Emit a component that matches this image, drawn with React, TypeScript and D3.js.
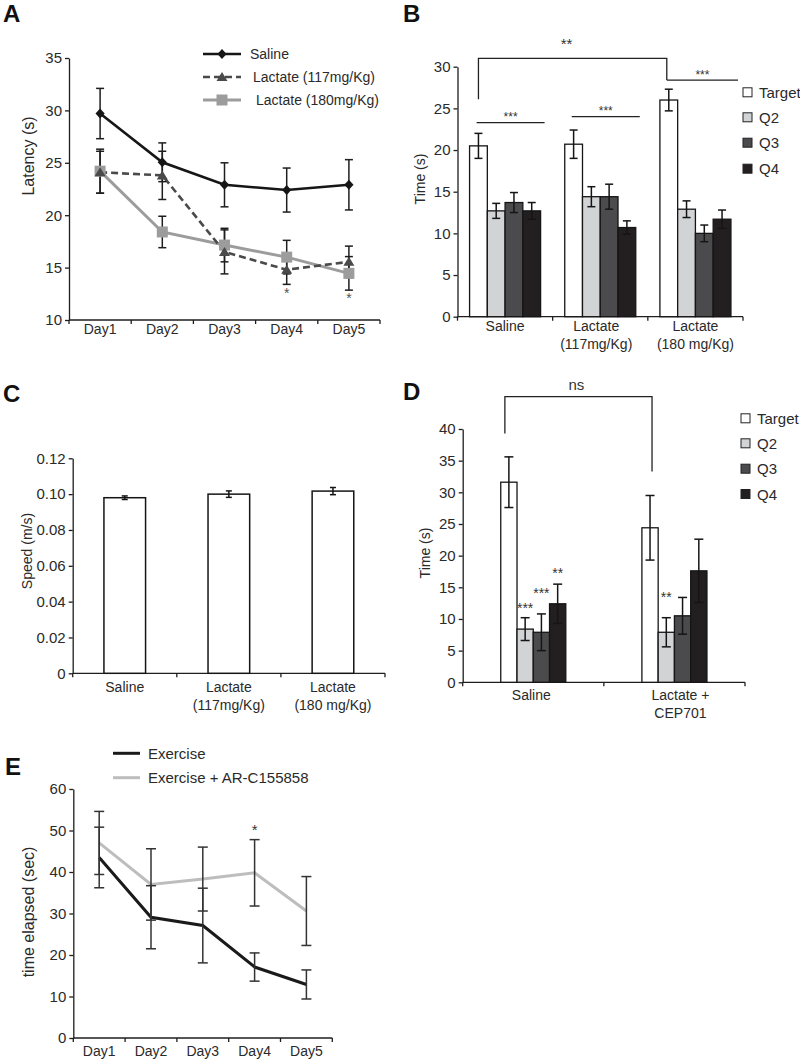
import React, { useEffect, useRef } from "react";
import * as d3 from "d3";

const FONT = "'Liberation Sans', Arial, Helvetica, sans-serif";
const INK = "#1e1e1e";
const TXT = "#2a2a2a";

// ---------- Panel A ----------
const daysA = ["Day1", "Day2", "Day3", "Day4", "Day5"];
const salineA = [29.7, 25.05, 22.9, 22.4, 22.9];
const salineAErr = [2.4, 1.85, 2.1, 2.1, 2.4];
const lac117A = [24.1, 23.8, 16.5, 14.8, 15.55];
const lac117AErr = [2.0, 2.3, 2.1, 1.4, 1.5];
const lac180A = [24.2, 18.4, 17.15, 16.0, 14.45];
const lac180AErr = [2.1, 1.5, 1.6, 1.6, 1.6];
const yTicksA = [10, 15, 20, 25, 30, 35];
const legendA = ["Saline", "Lactate (117mg/Kg)", " Lactate (180mg/Kg)"];
const starsA = ["", "", "", "*", "*"];
const starLevelA = [0, 0, 0, 12.1, 11.6];

// ---------- Panel B ----------
const groupsB = ["Saline", "Lactate (117mg/Kg)", "Lactate (180 mg/Kg)"];
const groupLinesB = [["Saline"], ["Lactate", "(117mg/Kg)"], ["Lactate", "(180 mg/Kg)"]];
const quadrants = ["Target", "Q2", "Q3", "Q4"];
const targetB = [20.5, 20.7, 26.0];
const q2B = [12.7, 14.4, 12.9];
const q3B = [13.7, 14.4, 10.0];
const q4B = [12.7, 10.7, 11.7];
const targetBErr = [1.5, 1.7, 1.3];
const q2BErr = [0.9, 1.2, 1.0];
const q3BErr = [1.2, 1.5, 1.0];
const q4BErr = [1.0, 0.8, 1.1];
const yTicksB = [0, 5, 10, 15, 20, 25, 30];

// ---------- Panel C ----------
const groupLinesC = groupLinesB;
const speedC = [0.098, 0.1, 0.1017];
const speedCErr = [0.001, 0.0018, 0.002];
const yTicksC = [0, 0.02, 0.04, 0.06, 0.08, 0.1, 0.12];

// ---------- Panel D ----------
const groupsD = ["Saline", "Lactate + CEP701"];
const groupLinesD = [["Saline"], ["Lactate +", "CEP701"]];
const targetD = [31.6, 24.4];
const q2D = [8.4, 7.9];
const q3D = [7.9, 10.5];
const q4D = [12.4, 17.6];
const targetDErr = [4.0, 5.1];
const q2DErr = [1.8, 2.3];
const q3DErr = [2.9, 2.9];
const q4DErr = [3.1, 5.0];
const yTicksD = [0, 5, 10, 15, 20, 25, 30, 35, 40];
const starsD = [["", "***", "***", "**"], ["", "**", "", ""]];
const starLevelD = [[0, 10.9, 13.3, 16.5], [0, 12.7, 0, 0]];

// ---------- Panel E ----------
const daysE = ["Day1", "Day2", "Day3", "Day4", "Day5"];
const exerciseE = [43.5, 29.1, 27.1, 17.1, 12.9];
const exerciseEErr = [7.3, 7.6, 9.0, 3.4, 3.5];
const arcE = [47.0, 37.0, 38.3, 39.8, 30.6];
const arcEErr = [7.6, 8.6, 7.7, 8.0, 8.3];
const yTicksE = [0, 10, 20, 30, 40, 50, 60];
const legendE = ["Exercise", "Exercise + AR-C155858"];
const starsE = ["", "", "", "*", ""];
const starLevelE = [0, 0, 0, 49.0, 0];

const quadFill: Record<string, string> = {
  Target: "#ffffff",
  Q2: "#d2d3d5",
  Q3: "#4b4b4d",
  Q4: "#231f20",
};

type Sel = d3.Selection<any, any, any, any>;

function yAxis(g: Sel, y: d3.ScaleLinear<number, number>, x0: number, ticks: number[], fmt: (d: number) => string, size = 15) {
  const a = g
    .append("g")
    .attr("transform", `translate(${x0},0)`)
    .call(
      d3
        .axisLeft(y)
        .tickValues(ticks)
        .tickFormat((d: any) => fmt(d))
        .tickSize(4)
        .tickSizeOuter(0)
        .tickPadding(3) as any
    );
  a.attr("font-family", FONT).attr("font-size", size);
  a.select(".domain").attr("stroke", INK).attr("stroke-width", 1.3);
  a.selectAll(".tick line").attr("stroke", INK).attr("stroke-width", 1.3);
  a.selectAll(".tick text").attr("fill", TXT);
}

function bandAxis(g: Sel, x: d3.ScaleBand<string>, yPos: number, lines: string[][], baseY: number, lineH: number, size = 14, labelDx: number[] = []) {
  const [r0, r1] = x.range();
  g.append("line").attr("x1", r0).attr("x2", r1).attr("y1", yPos).attr("y2", yPos).attr("stroke", INK).attr("stroke-width", 1.3);
  const bounds = x.domain().map((d) => x(d)!).concat([r1]);
  bounds.forEach((b) => {
    g.append("line").attr("x1", b).attr("x2", b).attr("y1", yPos).attr("y2", yPos + 4).attr("stroke", INK).attr("stroke-width", 1.3);
  });
  x.domain().forEach((d, i) => {
    const cx = x(d)! + x.bandwidth() / 2 + (labelDx[i] || 0);
    lines[i].forEach((t, k) => {
      g.append("text")
        .attr("x", cx)
        .attr("y", baseY + k * lineH)
        .attr("text-anchor", "middle")
        .attr("font-family", FONT)
        .attr("font-size", size)
        .attr("fill", TXT)
        .text(t);
    });
  });
}

function yLabel(g: Sel, text: string, x: number, y: number, size = 14) {
  g.append("text")
    .attr("transform", `translate(${x},${y}) rotate(-90)`)
    .attr("text-anchor", "middle")
    .attr("dominant-baseline", "central")
    .attr("font-family", FONT)
    .attr("font-size", size)
    .attr("fill", TXT)
    .text(text);
}

function panelLetter(g: Sel, t: string, x: number, y: number) {
  g.append("text").attr("x", x).attr("y", y).attr("font-family", FONT).attr("font-weight", "bold").attr("font-size", 24).attr("fill", "#111").text(t);
}

function errBar(g: Sel, cx: number, yTop: number, yBot: number, cap: number, color = INK, w = 1.5) {
  g.append("line").attr("x1", cx).attr("x2", cx).attr("y1", yTop).attr("y2", yBot).attr("stroke", color).attr("stroke-width", w);
  [yTop, yBot].forEach((yy) =>
    g.append("line").attr("x1", cx - cap / 2).attr("x2", cx + cap / 2).attr("y1", yy).attr("y2", yy).attr("stroke", color).attr("stroke-width", w)
  );
}

function markerPath(kind: string, cx: number, cy: number, r: number) {
  if (kind === "diamond") return `M${cx},${cy - r * 1.1}L${cx + r},${cy}L${cx},${cy + r * 1.1}L${cx - r},${cy}Z`;
  if (kind === "triangle") return `M${cx},${cy - r}L${cx + r * 1.1},${cy + r * 0.8}L${cx - r * 1.1},${cy + r * 0.8}Z`;
  return `M${cx - r},${cy - r}h${2 * r}v${2 * r}h${-2 * r}Z`;
}

function drawA(svg: Sel) {
  const g = svg.append("g");
  panelLetter(g, "A", 3, 22);
  const x = d3.scaleBand<string>().domain(daysA).range([69, 380]);
  const y = d3.scaleLinear().domain([10, 35]).range([320, 58]);
  yAxis(g, y, 69, yTicksA, (d) => String(d));
  bandAxis(g, x, 320, daysA.map((d) => [d]), 334, 0, 14);
  yLabel(g, "Latency (s)", 28, 156, 16);
  const cx = (i: number) => x(daysA[i])! + x.bandwidth() / 2;
  const series = [
    { vals: lac180A, err: lac180AErr, color: "#9c9c9c", w: 3, dash: null as string | null, marker: "square", r: 5.5, label: legendA[2] },
    { vals: lac117A, err: lac117AErr, color: "#4a4a4a", w: 2.6, dash: "7,4", marker: "triangle", r: 5, label: legendA[1] },
    { vals: salineA, err: salineAErr, color: "#161616", w: 2.6, dash: null, marker: "diamond", r: 4.6, label: legendA[0] },
  ];
  const line = d3.line<number>().x((_, i) => cx(i)).y((v) => y(v));
  series.forEach((s) => {
    g.append("path").attr("d", line(s.vals)!).attr("fill", "none").attr("stroke", s.color).attr("stroke-width", s.w).attr("stroke-dasharray", s.dash);
  });
  series.forEach((s) => s.vals.forEach((v, i) => errBar(g, cx(i), y(v + s.err[i]), y(v - s.err[i]), 8, INK, 1.5)));
  series.forEach((s) =>
    s.vals.forEach((v, i) => g.append("path").attr("d", markerPath(s.marker, cx(i), y(v), s.r)).attr("fill", s.color))
  );
  starsA.forEach((t, i) => {
    if (!t) return;
    g.append("text").attr("x", cx(i)).attr("y", y(starLevelA[i])).attr("text-anchor", "middle").attr("font-family", FONT).attr("font-size", 14).attr("fill", "#555").text(t);
  });
  // legend
  const legY = [54, 77, 100];
  const legX = [250, 253, 256];
  [series[2], series[1], series[0]].forEach((s, k) => {
    g.append("line").attr("x1", 203).attr("x2", 241).attr("y1", legY[k]).attr("y2", legY[k]).attr("stroke", s.color).attr("stroke-width", s.w).attr("stroke-dasharray", s.dash);
    g.append("path").attr("d", markerPath(s.marker, 222, legY[k], s.r)).attr("fill", s.color);
    g.append("text").attr("x", legX[k]).attr("y", legY[k]).attr("dominant-baseline", "central").attr("font-family", FONT).attr("font-size", 14).attr("fill", TXT).text(s.label.trim());
  });
}

function groupedBars(
  g: Sel,
  x0: d3.ScaleBand<string>,
  x1: d3.ScaleBand<string>,
  y: d3.ScaleLinear<number, number>,
  vals: number[][],
  errs: number[][],
  cap: number
) {
  x0.domain().forEach((grp, gi) => {
    quadrants.forEach((q, qi) => {
      const v = vals[qi][gi];
      g.append("rect")
        .attr("x", x0(grp)! + x1(q)!)
        .attr("y", y(v))
        .attr("width", x1.bandwidth())
        .attr("height", y(0) - y(v))
        .attr("fill", quadFill[q])
        .attr("stroke", "#151515")
        .attr("stroke-width", 1.3);
    });
  });
  x0.domain().forEach((grp, gi) => {
    quadrants.forEach((q, qi) => {
      const v = vals[qi][gi];
      const e = errs[qi][gi];
      const cx = x0(grp)! + x1(q)! + x1.bandwidth() / 2;
      errBar(g, cx, y(v + e), y(v - e), cap, "#151515", 1.5);
    });
  });
}

function squareLegend(g: Sel, x: number, ys: number[], size: number) {
  quadrants.forEach((q, k) => {
    g.append("rect").attr("x", x).attr("y", ys[k] - size / 2).attr("width", size).attr("height", size).attr("fill", quadFill[q]).attr("stroke", "#222").attr("stroke-width", 1);
    g.append("text").attr("x", x + size + 7).attr("y", ys[k]).attr("dominant-baseline", "central").attr("font-family", FONT).attr("font-size", 15).attr("fill", TXT).text(q);
  });
}

function starText(g: Sel, t: string, x: number, y: number, size: number) {
  g.append("text").attr("x", x).attr("y", y).attr("text-anchor", "middle").attr("font-family", FONT).attr("font-size", size).attr("fill", "#333").text(t);
}

function drawB(svg: Sel) {
  const g = svg.append("g");
  panelLetter(g, "B", 403, 22);
  const x0 = d3.scaleBand<string>().domain(groupsB).range([457.5, 743]);
  const x1 = d3.scaleBand<string>().domain(quadrants).range([0, x0.bandwidth()]).paddingOuter(0.68);
  const y = d3.scaleLinear().domain([0, 30]).range([316.7, 66.7]);
  yAxis(g, y, 457.5, yTicksB, (d) => String(d));
  bandAxis(g, x0, 316.7, groupLinesB, 331, 18, 14, [0, -4, 0]);
  yLabel(g, "Time (s)", 420, 179, 14);
  groupedBars(g, x0, x1, y, [targetB, q2B, q3B, q4B], [targetBErr, q2BErr, q3BErr, q4BErr], 8);
  const barC = (gi: number, q: string) => x0(groupsB[gi])! + x1(q)! + x1.bandwidth() / 2;
  // big bracket
  const bl = barC(0, "Target");
  const br = barC(2, "Target") - 2;
  g.append("path")
    .attr("d", `M${bl},${y(26.1)}V${y(31.0)}H${br}V${y(28.4)}`)
    .attr("fill", "none")
    .attr("stroke", "#222")
    .attr("stroke-width", 1.3);
  starText(g, "**", (bl + br) / 2 - 6, y(31.0) - 9, 15);
  g.append("line").attr("x1", br).attr("x2", x0.range()[1] - 5).attr("y1", y(28.4)).attr("y2", y(28.4)).attr("stroke", "#222").attr("stroke-width", 1.3);
  starText(g, "***", (br + x0.range()[1] - 5) / 2, y(28.4) - 1.5, 12);
  // within-group lines
  [[0, 23.3], [1, 24.0]].forEach(([gi, lvl]) => {
    const a = x0(groupsB[gi])! + x1("Target")! + 7;
    const b = x0(groupsB[gi])! + x1("Q4")! + x1.bandwidth() + 4;
    g.append("line").attr("x1", a).attr("x2", b).attr("y1", y(lvl)).attr("y2", y(lvl)).attr("stroke", "#222").attr("stroke-width", 1.3);
    starText(g, "***", (a + b) / 2, y(lvl) - 2, 12);
  });
  squareLegend(g, 743, [92.3, 117.3, 142.7, 168.7], 9);
}

function drawC(svg: Sel) {
  const g = svg.append("g");
  panelLetter(g, "C", 3, 402);
  const x = d3.scaleBand<string>().domain(groupsB).range([72.7, 385]);
  const y = d3.scaleLinear().domain([0, 0.12]).range([673.3, 458.3]);
  yAxis(g, y, 72.7, yTicksC, (d) => (d === 0 ? "0" : d.toFixed(2)));
  bandAxis(g, x, 673.3, groupLinesC, 692, 18, 14);
  yLabel(g, "Speed (m/s)", 27, 551, 14);
  const bw = x.bandwidth() * 0.4;
  groupsB.forEach((grp, i) => {
    const cx = x(grp)! + x.bandwidth() / 2;
    g.append("rect").attr("x", cx - bw / 2).attr("y", y(speedC[i])).attr("width", bw).attr("height", y(0) - y(speedC[i])).attr("fill", "#fff").attr("stroke", "#151515").attr("stroke-width", 1.5);
    errBar(g, cx, y(speedC[i] + speedCErr[i]), y(speedC[i] - speedCErr[i]), 6, "#151515", 1.5);
  });
}

function drawD(svg: Sel) {
  const g = svg.append("g");
  panelLetter(g, "D", 403, 400);
  const x0 = d3.scaleBand<string>().domain(groupsD).range([462.7, 745]);
  const x1 = d3.scaleBand<string>().domain(quadrants).range([0, x0.bandwidth()]).paddingOuter(2.34);
  const y = d3.scaleLinear().domain([0, 40]).range([682.3, 429]);
  yAxis(g, y, 462.7, yTicksD, (d) => String(d));
  bandAxis(g, x0, 682.3, groupLinesD, 700, 18, 14, [-2, 6]);
  yLabel(g, "Time (s)", 425, 553, 14);
  groupedBars(g, x0, x1, y, [targetD, q2D, q3D, q4D], [targetDErr, q2DErr, q3DErr, q4DErr], 9);
  const barC = (gi: number, q: string) => x0(groupsD[gi])! + x1(q)! + x1.bandwidth() / 2;
  const bl = barC(0, "Target") - 4;
  const br = barC(1, "Target") + 2;
  g.append("path")
    .attr("d", `M${bl},${y(39.3)}V${y(45.1)}H${br}V${y(33.3)}`)
    .attr("fill", "none")
    .attr("stroke", "#222")
    .attr("stroke-width", 1.3);
  starText(g, "ns", (bl + br) / 2 - 2, y(45.1) - 7, 15);
  starsD.forEach((row, gi) =>
    row.forEach((t, qi) => {
      if (!t) return;
      starText(g, t, barC(gi, quadrants[qi]), y(starLevelD[gi][qi]), 14);
    })
  );
  squareLegend(g, 741, [418.3, 443.3, 468.7, 494], 9);
}

function drawE(svg: Sel) {
  const g = svg.append("g");
  panelLetter(g, "E", 5, 775);
  const x = d3.scaleBand<string>().domain(daysE).range([73.3, 332.3]);
  const y = d3.scaleLinear().domain([0, 60]).range([1038, 789]);
  yAxis(g, y, 73.3, yTicksE, (d) => String(d));
  bandAxis(g, x, 1038, daysE.map((d) => [d]), 1056, 0, 14);
  yLabel(g, "time elapsed (sec)", 28, 912, 16);
  const cx = (i: number) => x(daysE[i])! + x.bandwidth() / 2;
  const line = d3.line<number>().x((_, i) => cx(i)).y((v) => y(v));
  g.append("path").attr("d", line(arcE)!).attr("fill", "none").attr("stroke", "#bdbdbd").attr("stroke-width", 3);
  g.append("path").attr("d", line(exerciseE)!).attr("fill", "none").attr("stroke", "#1a1a1a").attr("stroke-width", 3);
  arcE.forEach((v, i) => errBar(g, cx(i), y(v + arcEErr[i]), y(v - arcEErr[i]), 10, "#333", 1.5));
  exerciseE.forEach((v, i) => errBar(g, cx(i), y(v + exerciseEErr[i]), y(v - exerciseEErr[i]), 10, "#333", 1.5));
  starsE.forEach((t, i) => {
    if (!t) return;
    starText(g, t, cx(i), y(starLevelE[i]), 15);
  });
  const legY = [753.3, 777.7];
  const cols = ["#1a1a1a", "#bdbdbd"];
  legendE.forEach((t, k) => {
    g.append("line").attr("x1", 113).attr("x2", 140).attr("y1", legY[k]).attr("y2", legY[k]).attr("stroke", cols[k]).attr("stroke-width", 3);
    g.append("text").attr("x", 148).attr("y", legY[k]).attr("dominant-baseline", "central").attr("font-family", FONT).attr("font-size", 15).attr("fill", TXT).text(t);
  });
}

export default function App() {
  const ref = useRef<SVGSVGElement>(null);
  useEffect(() => {
    const svg = d3.select(ref.current) as Sel;
    svg.selectAll("*").remove();
    svg.append("rect").attr("width", 800).attr("height", 1061).attr("fill", "#fff");
    drawA(svg);
    drawB(svg);
    drawC(svg);
    drawD(svg);
    drawE(svg);
  }, []);
  return (
    <svg
      ref={ref}
      width={800}
      height={1061}
      style={{ position: "absolute", left: 0, top: 0, display: "block" }}
    />
  );
}
